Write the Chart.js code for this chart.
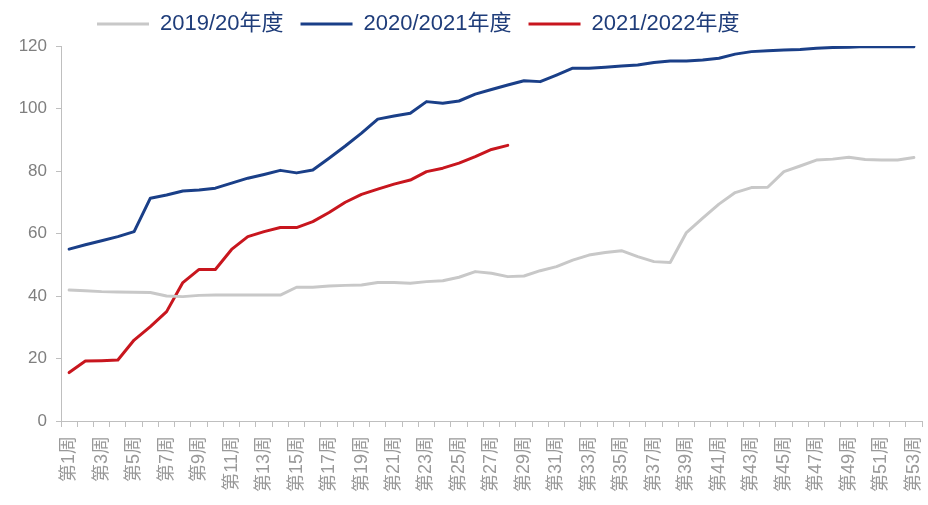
<!DOCTYPE html>
<html>
<head>
<meta charset="utf-8">
<script src="https://cdn.jsdelivr.net/npm/chart.js@4.4.1/dist/chart.umd.min.js"></script>
<style>
  html, body { margin: 0; padding: 0; background: #ffffff; }
  #wrap { width: 928px; height: 505px; }
</style>
</head>
<body>
<div id="wrap"><canvas id="weekChart"></canvas></div>
<script>
// 周次
const weeks = [
    '第1周', '第2周', '第3周', '第4周', '第5周', '第6周', '第7周', '第8周', '第9周', '第10周',
    '第11周', '第12周', '第13周', '第14周', '第15周', '第16周', '第17周', '第18周', '第19周', '第20周',
    '第21周', '第22周', '第23周', '第24周', '第25周', '第26周', '第27周', '第28周', '第29周', '第30周',
    '第31周', '第32周', '第33周', '第34周', '第35周', '第36周', '第37周', '第38周', '第39周', '第40周',
    '第41周', '第42周', '第43周', '第44周', '第45周', '第46周', '第47周', '第48周', '第49周', '第50周',
    '第51周', '第52周', '第53周'
];

const seriesNames = ['2019/20年度', '2020/2021年度', '2021/2022年度'];

const season1920 = [
    41.9, 41.7, 41.4, 41.3, 41.2, 41.1, 40.0, 39.8, 40.2, 40.3,
    40.3, 40.3, 40.3, 40.3, 42.8, 42.8, 43.2, 43.4, 43.5, 44.3,
    44.3, 44.1, 44.6, 44.9, 46.0, 47.8, 47.3, 46.2, 46.4, 48.1,
    49.4, 51.5, 53.1, 53.9, 54.5, 52.6, 51.0, 50.7, 60.3, 64.9,
    69.4, 73.1, 74.7, 74.8, 79.8, 81.6, 83.5, 83.8, 84.4, 83.7,
    83.5, 83.5, 84.3
];

const season2021 = [
    55.0, 56.4, 57.7, 59.0, 60.6, 71.3, 72.3, 73.6, 73.9, 74.5,
    76.1, 77.7, 78.9, 80.2, 79.4, 80.3, 84.1, 88.0, 92.1, 96.6,
    97.6, 98.5, 102.2, 101.7, 102.4, 104.6, 106.1, 107.5, 108.9, 108.6,
    110.7, 112.9, 112.9, 113.2, 113.6, 113.9, 114.7, 115.2, 115.2, 115.5,
    116.1, 117.4, 118.2, 118.5, 118.7, 118.9, 119.3, 119.5, 119.6, 119.8,
    119.8, 119.8, 119.8
];

const season2122 = [
    15.5, 19.2, 19.3, 19.5, 25.9, 30.2, 35.0, 44.3, 48.5, 48.5,
    54.9, 59.0, 60.6, 61.9, 61.9, 63.8, 66.7, 70.0, 72.5, 74.2,
    75.8, 77.1, 79.8, 80.9, 82.5, 84.6, 86.9, 88.2
];

const yTicks = [0, 20, 40, 60, 80, 100, 120];

const colors = ['#c8c8c8', '#1a3f88', '#c8161e'];
const axisGray = '#bfbfbf';
const tickFont = '"Liberation Sans", "Noto Sans CJK SC", sans-serif';

function makeSet(i, data) {
    return {
        label: seriesNames[i],
        data: data,
        borderColor: colors[i],
        backgroundColor: colors[i],
        borderWidth: 3,
        pointRadius: 0,
        pointStyle: 'line',
        tension: 0,
        borderJoinStyle: 'round',
        borderCapStyle: 'round'
    };
}

// legend sits a bit left of centre, and the plot starts at y=46
const legendPlace = {
    id: 'legendPlace',
    beforeInit(chart) {
        const legend = chart.legend;
        const fit = legend.fit;
        legend.fit = function () {
            fit.call(this);
            this.height = 40;
        };
    },
    afterLayout(chart) {
        chart.legend.left = 80;
        chart.legend.top = -4;
    }
};

const ctx = document.getElementById('weekChart').getContext('2d');
const chart = new Chart(ctx, {
    type: 'line',
    data: {
        labels: weeks,
        datasets: [makeSet(0, season1920), makeSet(1, season2021), makeSet(2, season2122)]
    },
    options: {
        responsive: true,
        maintainAspectRatio: false,
        animation: false,
        devicePixelRatio: 1,
        layout: { padding: { top: 6, right: 6, left: 0, bottom: 0 } },
        plugins: {
            tooltip: { enabled: false },
            legend: {
                position: 'top',
                align: 'start',
                labels: {
                    usePointStyle: true,
                    pointStyleWidth: 52,
                    padding: 17,
                    color: '#1f3d7a',
                    font: { family: tickFont, size: 22 }
                }
            }
        },
        scales: {
            x: {
                offset: true,
                grid: {
                    display: true,
                    drawOnChartArea: false,
                    offset: true,
                    tickLength: 6,
                    color: axisGray
                },
                border: { color: axisGray, width: 1 },
                ticks: {
                    autoSkip: false,
                    maxRotation: 90,
                    minRotation: 90,
                    padding: 9,
                    color: '#999999',
                    font: { family: tickFont, size: 18 },
                    callback: (v, i) => (i % 2 === 0 ? weeks[i] : '')
                },
                afterFit(scale) {
                    scale.height = 84;
                    scale.paddingLeft = 0;
                    scale.paddingRight = 0;
                }
            },
            y: {
                min: 0,
                max: 120,
                afterBuildTicks(scale) { scale.ticks = yTicks.map(v => ({ value: v })); },
                grid: {
                    display: true,
                    drawOnChartArea: false,
                    tickLength: 5,
                    color: axisGray
                },
                border: { color: axisGray, width: 1 },
                ticks: {
                    padding: 9,
                    color: '#7f7f7f',
                    font: { family: tickFont, size: 17 }
                },
                afterFit(scale) { scale.width = 61; }
            }
        }
    },
    plugins: [legendPlace]
});
</script>
</body>
</html>
